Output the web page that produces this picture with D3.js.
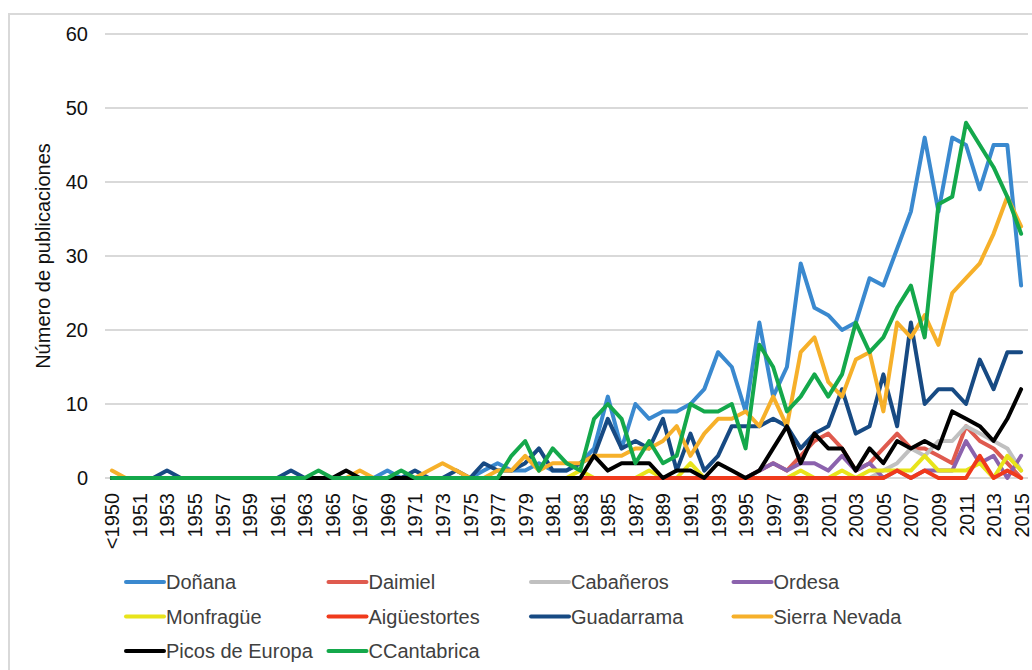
<!DOCTYPE html>
<html>
<head>
<meta charset="utf-8">
<script src="https://cdn.jsdelivr.net/npm/d3@7"></script>
<style>
  body { margin: 0; background: #fff; }
  text { font-family: "Liberation Sans", Arial, sans-serif; }
</style>
</head>
<body>
<svg width="1032" height="670"></svg>
<script>
// categories: "<1950", 1950 ... 2015
const years = ["<1950"].concat(d3.range(1950, 2016).map(String));
const yTicks = [0, 10, 20, 30, 40, 50, 60];

// values per park, one per category (<1950, 1950, 1951, ... 2015)
const donana = [0, 0,0,0,0,0,0,0,0,0,0, 0,0,0,0,0,0,0,0,0,1, 0,0,0,0,0,0,1,2,1,1, 2,1,1,2,4,11,4,10,8,9, 9,10,12,17,15,9,21,11,15,29, 23,22,20,21,27,26,31,36,46,36, 46,45,39,45,45,26];
const daimiel = [0, 0,0,0,0,0,0,0,0,0,0, 0,0,0,0,0,0,0,0,0,0, 0,0,0,0,0,0,0,0,0,0, 0,0,0,0,0,0,0,0,0,0, 0,0,0,0,0,0,1,2,1,3, 5,6,4,1,2,4,6,4,4,3, 2,7,5,4,2,0];
const cabaneros = [0, 0,0,0,0,0,0,0,0,0,0, 0,0,0,0,0,0,0,0,0,0, 0,0,0,0,0,0,0,0,0,0, 0,0,0,0,0,0,0,0,0,0, 0,0,0,0,0,0,0,0,0,0, 0,0,0,0,0,1,2,4,3,5, 5,7,6,5,4,1];
const ordesa = [0, 0,0,0,0,0,0,0,0,0,0, 0,0,0,0,0,0,0,0,0,0, 0,0,0,0,0,0,0,0,0,0, 0,0,0,0,0,0,0,0,0,0, 0,0,0,0,0,0,1,2,1,2, 2,1,3,1,2,0,1,0,1,1, 1,5,2,3,0,3];
const monfrague = [0, 0,0,0,0,0,0,0,0,0,0, 0,0,0,0,0,0,0,0,0,0, 0,0,0,0,0,0,0,0,0,0, 0,0,0,1,0,0,0,0,1,0, 0,2,0,0,0,0,0,0,0,1, 0,0,1,0,1,1,1,1,3,1, 1,1,2,0,3,1];
const aiguestortes = [0, 0,0,0,0,0,0,0,0,0,0, 0,0,0,0,0,0,0,0,0,0, 0,0,0,0,0,0,0,0,0,0, 0,0,0,0,0,0,0,0,0,0, 0,0,0,0,0,0,0,0,0,0, 0,0,0,0,0,0,1,0,1,0, 0,0,3,0,1,0];
const guadarrama = [0, 0,0,0,1,0,0,0,0,0,0, 0,0,1,0,0,0,0,0,0,0, 0,1,0,0,1,0,2,1,1,2, 4,1,1,2,3,8,4,5,4,8, 1,6,1,3,7,7,7,8,7,4, 6,7,12,6,7,14,7,21,10,12, 12,10,16,12,17,17];
const sierraNevada = [1, 0,0,0,0,0,0,0,0,0,0, 0,0,0,0,0,0,0,1,0,0, 0,0,1,2,1,0,0,1,1,3, 1,2,2,2,3,3,3,4,4,5, 7,3,6,8,8,9,7,11,7,17, 19,13,11,16,17,9,21,19,22,18, 25,27,29,33,38,34];
const picos = [0, 0,0,0,0,0,0,0,0,0,0, 0,0,0,0,0,0,1,0,0,0, 0,0,0,0,0,0,0,0,0,0, 0,0,0,0,3,1,2,2,2,0, 1,1,0,2,1,0,1,4,7,2, 6,4,4,1,4,2,5,4,5,4, 9,8,7,5,8,12];
const cantabrica = [0, 0,0,0,0,0,0,0,0,0,0, 0,0,0,0,1,0,0,0,0,0, 1,0,0,0,0,0,0,0,3,5, 1,4,2,1,8,10,8,2,5,2, 3,10,9,9,10,4,18,15,9,11, 14,11,14,21,17,19,23,26,19,37, 38,48,45,42,38,33];

const series = [
  { name: "Doñana", color: "#3a89cf", values: donana },
  { name: "Daimiel", color: "#df5a4e", values: daimiel },
  { name: "Cabañeros", color: "#c0c0c0", values: cabaneros },
  { name: "Ordesa", color: "#8b62ad", values: ordesa },
  { name: "Monfragüe", color: "#e8e41b", values: monfrague },
  { name: "Aigüestortes", color: "#f03a1c", values: aiguestortes },
  { name: "Guadarrama", color: "#174a83", values: guadarrama },
  { name: "Sierra Nevada", color: "#f6b02a", values: sierraNevada },
  { name: "Picos de Europa", color: "#000000", values: picos },
  { name: "CCantabrica", color: "#14a84b", values: cantabrica }
];

const svg = d3.select("svg");

// outer frame
svg.append("rect")
  .attr("x", 9).attr("y", 14)
  .attr("width", 1040).attr("height", 680)
  .attr("fill", "#fff")
  .attr("stroke", "#d9d9d9")
  .attr("stroke-width", 2);

const x = d3.scalePoint().domain(years).range([105, 1028]).padding(0.5);
const y = d3.scaleLinear().domain([0, 60]).range([478, 34]);

// gridlines
svg.append("g")
  .selectAll("line")
  .data(yTicks)
  .join("line")
  .attr("x1", 105).attr("x2", 1028)
  .attr("y1", d => y(d)).attr("y2", d => y(d))
  .attr("stroke", "#d9d9d9")
  .attr("stroke-width", 2);

// y axis
const yAxis = svg.append("g")
  .attr("transform", "translate(88,0)")
  .call(d3.axisLeft(y).tickValues(yTicks).tickSize(0).tickPadding(0));
yAxis.select(".domain").remove();
yAxis.selectAll("text")
  .style("font-size", "20px")
  .attr("fill", "#111");

// x axis, every other category labelled
const xAxis = svg.append("g")
  .attr("transform", "translate(0," + y(0) + ")")
  .call(d3.axisBottom(x).tickValues(years.filter((d, i) => i % 2 === 0)).tickSize(0));
xAxis.select(".domain").remove();
xAxis.selectAll("text")
  .attr("transform", "rotate(-90)")
  .attr("x", -15)
  .attr("y", 0)
  .attr("dy", "0.35em")
  .style("text-anchor", "end")
  .style("font-size", "20px")
  .attr("fill", "#111");

// axis title
svg.append("text")
  .attr("transform", "translate(50,256) rotate(-90)")
  .attr("text-anchor", "middle")
  .style("font-size", "20px")
  .attr("fill", "#111")
  .text("Número de publicaciones");

// lines
const line = d3.line()
  .x((d, i) => x(years[i]))
  .y(d => y(d));

svg.append("g")
  .selectAll("path")
  .data(series)
  .join("path")
  .attr("d", d => line(d.values))
  .attr("fill", "none")
  .attr("stroke", d => d.color)
  .attr("stroke-width", 4)
  .attr("stroke-linejoin", "round")
  .attr("stroke-linecap", "round");

// legend, 4 columns
const legend = svg.append("g")
  .selectAll("g")
  .data(series)
  .join("g")
  .attr("transform", (d, i) => "translate(" + (126 + (i % 4) * 202.5) + "," + (582 + Math.floor(i / 4) * 34.5) + ")");

legend.append("line")
  .attr("x1", 0).attr("x2", 38)
  .attr("stroke", d => d.color)
  .attr("stroke-width", 4)
  .attr("stroke-linecap", "round");

legend.append("text")
  .attr("x", 40)
  .attr("dy", "0.35em")
  .style("font-size", "20px")
  .attr("fill", "#404040")
  .text(d => d.name);
</script>
</body>
</html>
